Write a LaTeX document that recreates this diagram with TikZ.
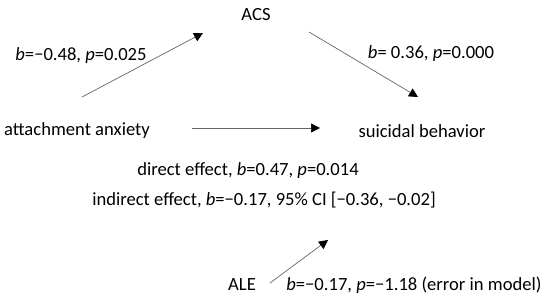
\documentclass[tikz,border=0pt]{standalone}
\usepackage{fontspec}
\setmainfont{Carlito}
\usetikzlibrary{arrows.meta,positioning}

\begin{document}
\begin{tikzpicture}[
    x=0.5pt, y=-0.5pt,
    every node/.style={font=\fontsize{9.3}{11}\selectfont, inner sep=0pt},
    var/.style={anchor=center},
    lbl/.style={anchor=center},
    e/.style={draw=black!60, line width=0.35pt,
              -{Triangle[length=4.5pt, width=4.5pt, color=black, fill=black]}},
  ]
  \useasboundingbox (0,0) rectangle (550,303);
  \node[var] (acs) at (256, 15) {ACS};
  \node[var] (anx) at (77, 131) {attachment anxiety};
  \node[var] (sui) at (422, 131) {suicidal behavior};
  \node[var] (ale) at (242, 285) {ALE};
  \coordinate (a1) at (82, 97);
  \coordinate (a2) at (203, 33);
  \coordinate (b1) at (309, 32);
  \coordinate (b2) at (418, 97);
  \coordinate (c1) at (192, 128);
  \coordinate (c2) at (320, 128);
  \coordinate (d1) at (270, 283);
  \coordinate (d2) at (328, 240);
  \draw[e] (a1) -- (a2);
  \draw[e] (b1) -- (b2);
  \draw[e] (c1) -- (c2);
  \draw[e] (d1) -- (d2);
  \node[lbl] (pa) at (81, 56) {\textit{b}=−0.48, \textit{p}=0.025};
  \node[lbl] (pb) at (431, 54) {\textit{b}= 0.36, \textit{p}=0.000};
  \node[lbl] (dir) at (248, 171) {direct effect, \textit{b}=0.47, \textit{p}=0.014};
  \node[lbl] (ind) at (264, 200) {indirect effect, \textit{b}=−0.17, 95\% CI [−0.36, −0.02]};
  \node[lbl, anchor=west] (pd) at (286, 285) {\textit{b}=−0.17, \textit{p}=−1.18 (error in model)};
\end{tikzpicture}
\end{document}
